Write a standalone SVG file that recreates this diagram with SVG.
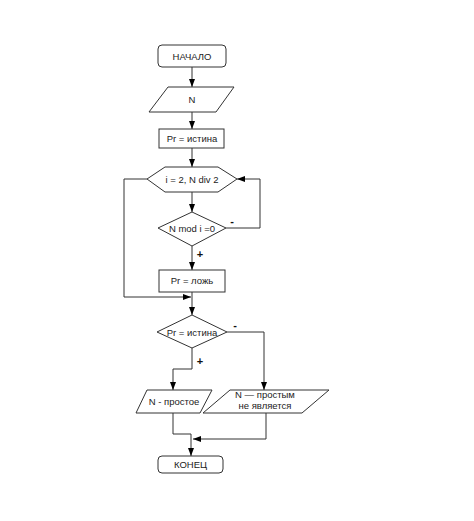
<svg xmlns="http://www.w3.org/2000/svg" width="474" height="521" viewBox="0 0 474 521">
<style>
.s{fill:#fff;stroke:#333;stroke-width:1}
.t{font-family:"Liberation Sans",Arial,sans-serif;font-size:9.5px;fill:#222;text-anchor:middle}
.l{font-family:"Liberation Sans",Arial,sans-serif;font-size:11px;fill:#111;font-weight:bold;text-anchor:middle}
.c{fill:none;stroke:#333;stroke-width:1}
</style>
<defs>
<marker id="a" viewBox="0 0 8 6" refX="8" refY="3" markerWidth="8" markerHeight="6" markerUnits="userSpaceOnUse" orient="auto">
<path d="M0,0 L8,3 L0,6 z" fill="#000"/>
</marker>
</defs>
<rect width="474" height="521" fill="#fff"/>
<g id="connectors">
<path class="c" d="M192,67 V87" marker-end="url(#a)"/>
<path class="c" d="M192,112 V129" marker-end="url(#a)"/>
<path class="c" d="M192,148 V167" marker-end="url(#a)"/>
<path class="c" d="M192,192 V212" marker-end="url(#a)"/>
<path class="c" d="M192,246 V270" marker-end="url(#a)"/>
<path class="c" d="M226,228 H260 V179 H237" marker-end="url(#a)"/>
<path class="c" d="M147,179 H124 V297 H191" marker-end="url(#a)"/>
<path class="c" d="M192,292 V315" marker-end="url(#a)"/>
<path class="c" d="M227,332 H264 V390" marker-end="url(#a)"/>
<path class="c" d="M192,348 V369 H173 V390" marker-end="url(#a)"/>
<path class="c" d="M173,413 V434 H191"/>
<path class="c" d="M266,413 V439 H193" marker-end="url(#a)"/>
<path class="c" d="M191,434 V456" marker-end="url(#a)"/>
<text class="l" x="200" y="258">+</text>
<text class="l" x="232" y="225">-</text>
<text class="l" x="235" y="329">-</text>
<text class="l" x="200" y="365">+</text>
</g>
<g id="start">
<rect class="s" x="158" y="45" width="68" height="22" rx="4"/>
<text class="t" x="192" y="59.5">НАЧАЛО</text>
</g>
<g id="input">
<polygon class="s" points="168,87 234,87 216,112 149,112"/>
<text class="t" x="192" y="103">N</text>
</g>
<g id="init">
<rect class="s" x="159" y="129" width="65" height="19"/>
<text class="t" x="192" y="142">Pr = истина</text>
</g>
<g id="loop">
<polygon class="s" points="147,179 165,167 218,167 237,179 218,192 165,192"/>
<text class="t" x="192" y="183">i = 2, N div 2</text>
</g>
<g id="cond1">
<polygon class="s" points="192,212 226,228 192,246 158,228"/>
<text class="t" x="192" y="232">N mod i =0</text>
</g>
<g id="setfalse">
<rect class="s" x="159" y="270" width="66" height="22"/>
<text class="t" x="192" y="284">Pr = ложь</text>
</g>
<g id="cond2">
<polygon class="s" points="192,315 227,332 192,348 157,332"/>
<text class="t" x="192" y="335.5">Pr = истина</text>
</g>
<g id="out1">
<polygon class="s" points="147,390 212,390 200,413 136,413"/>
<text class="t" x="174" y="405">N - простое</text>
</g>
<g id="out2">
<polygon class="s" points="230,390 329,390 302,413 203,413"/>
<text class="t" x="265" y="398">N — простым</text>
<text class="t" x="265" y="409">не является</text>
</g>
<g id="end">
<rect class="s" x="158" y="456" width="65" height="17" rx="4"/>
<text class="t" x="190.5" y="468">КОНЕЦ</text>
</g>
</svg>
